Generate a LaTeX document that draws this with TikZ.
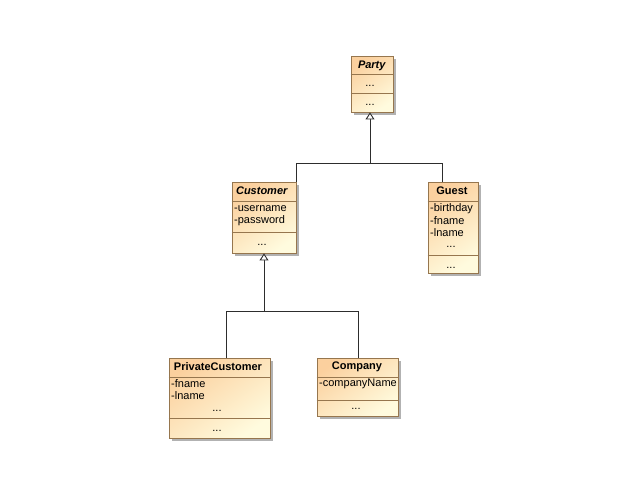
\documentclass[tikz,border=0pt]{standalone}
\usepackage{fontspec}
\setmainfont{Liberation Sans}
\usetikzlibrary{arrows.meta,shadows}
\definecolor{peach}{RGB}{251,208,158}
\definecolor{pale}{RGB}{255,251,222}
\definecolor{frameclr}{RGB}{150,118,78}
\definecolor{lineclr}{RGB}{45,45,45}
\tikzset{
  classbox/.style={draw=frameclr, line width=0.9pt, rectangle, inner sep=0pt,
    top color=peach, bottom color=pale, shading angle=35,
    drop shadow={shadow xshift=3pt, shadow yshift=-3pt, fill=black!30, opacity=1}},
  sepline/.style={draw=frameclr, line width=0.8pt},
  ctitle/.style={inner sep=0pt, font=\fontsize{11}{12}\selectfont\bfseries},
  attr/.style={inner sep=0pt, anchor=west, font=\fontsize{11}{12}\selectfont},
  dots/.style={inner sep=0pt, anchor=base, font=\fontsize{11}{12}\selectfont},
  conn/.style={draw=lineclr, line width=0.9pt},
  inh/.style={conn, -{Triangle[open, width=9pt, length=7pt, fill=white]}}
}
\begin{document}
\begin{tikzpicture}[x=1pt, y=-1pt]
\fill[white] (0,0) rectangle (640,480);
\useasboundingbox (0,0) rectangle (640,480);

% Party
\node[classbox, minimum width=42pt, minimum height=56pt] (party) at (372,84) {};
\draw[sepline] (party.west |- 0,74) -- (party.east |- 0,74);
\draw[sepline] (party.west |- 0,93) -- (party.east |- 0,93);
\node[ctitle] (partyT) at (372,65.5) {\textit{Party}};
\node[dots] (partyD1) at (370,86) {...};
\node[dots] (partyD2) at (370,105) {...};

% Customer
\node[classbox, minimum width=64pt, minimum height=71pt] (cust) at (264,217.5) {};
\draw[sepline] (cust.west |- 0,201) -- (cust.east |- 0,201);
\draw[sepline] (cust.west |- 0,232) -- (cust.east |- 0,232);
\node[ctitle] (custT) at (262,190.5) {\textit{Customer}};
\node[attr] (custA1) at (234,209) {-username};
\node[attr] (custA2) at (234,221) {-password};
\node[dots] (custD) at (262,245) {...};

% Guest
\node[classbox, minimum width=50pt, minimum height=91pt] (guest) at (453,227.5) {};
\draw[sepline] (guest.west |- 0,201) -- (guest.east |- 0,201);
\draw[sepline] (guest.west |- 0,255) -- (guest.east |- 0,255);
\node[ctitle] (guestT) at (452,190.5) {Guest};
\node[attr] (guestA1) at (430,209) {-birthday};
\node[attr] (guestA2) at (430,221) {-fname};
\node[attr] (guestA3) at (430,233) {-lname};
\node[dots] (guestD1) at (451,247) {...};
\node[dots] (guestD2) at (451,268) {...};

% PrivateCustomer
\node[classbox, minimum width=101pt, minimum height=80pt] (pc) at (219.5,398) {};
\draw[sepline] (pc.west |- 0,377) -- (pc.east |- 0,377);
\draw[sepline] (pc.west |- 0,418) -- (pc.east |- 0,418);
\node[ctitle] (pcT) at (218,366.5) {PrivateCustomer};
\node[attr] (pcA1) at (171,384) {-fname};
\node[attr] (pcA2) at (171,396) {-lname};
\node[dots] (pcD1) at (217,411) {...};
\node[dots] (pcD2) at (217,431) {...};

% Company
\node[classbox, minimum width=81pt, minimum height=58pt] (comp) at (357.5,387) {};
\draw[sepline] (comp.west |- 0,377) -- (comp.east |- 0,377);
\draw[sepline] (comp.west |- 0,400) -- (comp.east |- 0,400);
\node[ctitle] (compT) at (357,366.5) {Company};
\node[attr] (compA1) at (319,384) {-companyName};
\node[dots] (compD) at (356,409) {...};

% Generalizations to Party
\coordinate (j1) at (370,163);
\coordinate (g1) at (442,163);
\draw[conn] (cust.north east) |- (j1);
\draw[conn] (j1) -- (g1) -- (g1 |- guest.north);
\draw[inh] (j1) -- (j1 |- party.south);

% Generalizations to Customer
\coordinate (j2) at (264,311);
\coordinate (p1) at (226,311);
\coordinate (c1) at (358,311);
\draw[conn] (p1 |- pc.north) -- (p1) -- (c1) -- (c1 |- comp.north);
\draw[inh] (j2) -- (cust.south);
\end{tikzpicture}
\end{document}
